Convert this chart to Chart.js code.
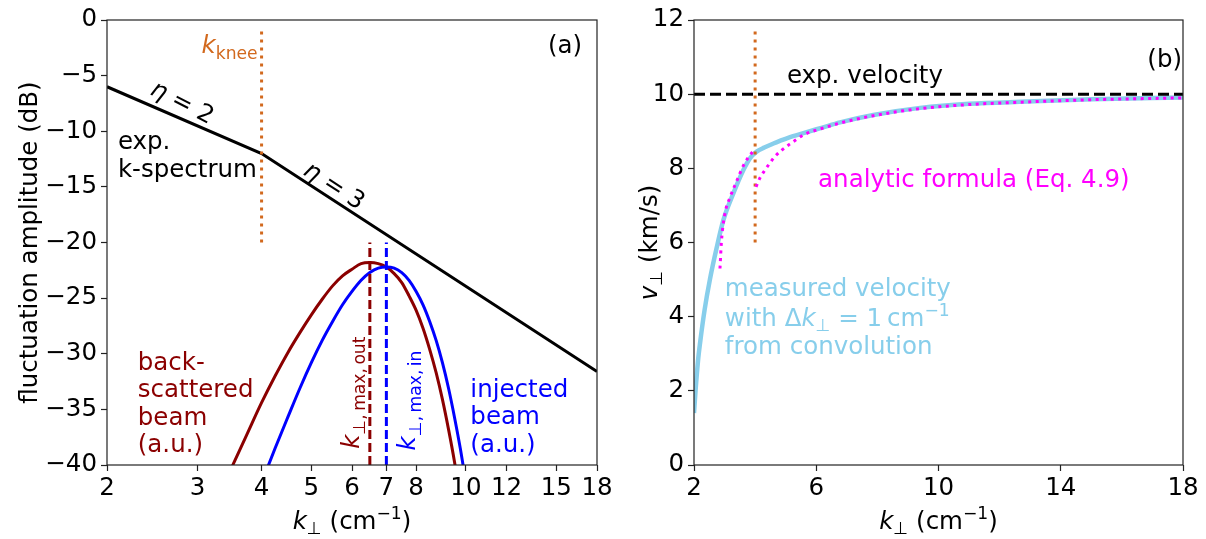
<!DOCTYPE html>
<html>
<head>
<meta charset="utf-8">
<script src="https://cdn.jsdelivr.net/npm/chart.js@4.4.1/dist/chart.umd.min.js"></script>
<style>
  html, body { margin: 0; padding: 0; background: #fff; }
  #wrap { position: relative; width: 1206px; height: 539px; overflow: hidden; }
  .panel { position: absolute; top: 0; height: 539px; }
</style>
</head>
<body>
<div id="wrap">
  <div class="panel" style="left:0;width:640px"><canvas id="chartA" width="640" height="539"></canvas></div>
  <div class="panel" style="left:603px;width:603px"><canvas id="chartB" width="603" height="539"></canvas></div>
</div>
<script>
// panel (a): experimental k-spectrum and beam profiles (k in cm^-1, amplitude in dB)
const kSpectrum = [2, 4, 18];
const ampSpectrum = [-6, -12, -31.6];

const kInjected = [4.0, 4.25, 4.5, 4.75, 5.0, 5.25, 5.5, 5.75, 6.0, 6.25, 6.5, 6.75, 7.0, 7.25, 7.5, 7.75, 8.0, 8.25, 8.5, 8.75, 9.0, 9.25, 9.5, 9.75, 10.0];
const ampInjected = [-41.6, -38.5, -35.7, -33.1, -30.8, -28.8, -27.1, -25.6, -24.4, -23.4, -22.7, -22.3, -22.2, -22.3, -22.7, -23.4, -24.4, -25.6, -27.1, -28.8, -30.8, -33.1, -35.7, -38.5, -41.6];

const kBackscat = [3.4, 3.5, 3.75, 4.0, 4.25, 4.5, 4.75, 5.0, 5.25, 5.5, 5.75, 6.0, 6.25, 6.5, 6.75, 7.0, 7.25, 7.5, 7.75, 8.0, 8.25, 8.5, 8.75, 9.0, 9.25, 9.5, 9.75];
const ampBackscat = [-41.5, -40.2, -37.2, -34.4, -32.0, -29.9, -28.1, -26.5, -25.1, -23.9, -23.0, -22.4, -21.9, -21.8, -21.9, -22.2, -22.8, -23.6, -24.8, -26.1, -27.7, -29.6, -31.7, -34.1, -36.8, -39.7, -42.9];

const kKnee = 4;
const kneeSpanA = [-20, -0.6];
const kMaxOut = 6.5;
const kMaxIn = 7.0;
const peakSpan = [-40, -20];

const xTicksA = [2, 3, 4, 5, 6, 7, 8, 10, 12, 15, 18];
const yTicksA = [0, -5, -10, -15, -20, -25, -30, -35, -40];

// panel (b): perpendicular velocity (km/s)
const kMeasured = [2.0, 2.05, 2.13, 2.2, 2.35, 2.52, 2.74, 2.96, 3.29, 3.62, 3.83, 4.05, 4.3, 4.6, 4.81, 5.1, 5.58, 6.2, 6.78, 7.87, 9.4, 11, 12.9, 15, 18];
const vMeasured = [1.4, 2.0, 2.8, 3.3, 4.2, 5.0, 5.85, 6.6, 7.33, 7.96, 8.27, 8.45, 8.56, 8.67, 8.74, 8.83, 8.95, 9.1, 9.24, 9.44, 9.63, 9.74, 9.8, 9.86, 9.91];

const kAnalyticLow = [2.85, 2.9, 3.01, 3.18, 3.4, 3.62, 3.95, 4.0];
const vAnalyticLow = [5.3, 6.05, 6.77, 7.22, 7.66, 8.08, 8.48, 8.52];
const kAnalyticHigh = [4.03, 4.15, 4.32, 4.49, 4.65, 4.87, 5.11, 5.34, 5.58, 6.2, 6.78, 7.87, 9.4, 11, 12.9, 15, 18];
const vAnalyticHigh = [7.5, 7.73, 7.95, 8.15, 8.32, 8.49, 8.64, 8.77, 8.9, 9.08, 9.22, 9.42, 9.61, 9.72, 9.79, 9.85, 9.9];

const expVelocity = 10;
const kneeSpanB = [6, 11.8];

const xTicksB = [2, 6, 10, 14, 18];
const yTicksB = [0, 2, 4, 6, 8, 10, 12];

const FONT = '"DejaVu Sans", sans-serif';
const FS = 24.5;
const ORANGE = '#D2691E';
const DARKRED = '#8B0000';
const BLUE = '#0000FF';
const SKY = '#87CEEB';
const MAGENTA = '#FF00FF';

const pts = (xs, ys) => xs.map((x, i) => ({ x, y: ys[i] }));
const fmt = v => (v < 0 ? '\u2212' + Math.abs(v) : String(v));

// draws text made of parts: [text, style] with style '', 'i', 'sub', 'sup'
function drawRich(ctx, parts, x, y, align, color, rotDeg) {
  ctx.save();
  ctx.translate(x, y);
  if (rotDeg) ctx.rotate(rotDeg * Math.PI / 180);
  ctx.fillStyle = color;
  ctx.textBaseline = 'alphabetic';
  ctx.textAlign = 'left';
  const fontOf = st => {
    const size = st === 'sub' || st === 'sup' ? FS * 0.7 : FS;
    return (st === 'i' ? 'italic ' : '') + size + 'px ' + FONT;
  };
  let total = 0;
  const widths = parts.map(([t, st]) => {
    ctx.font = fontOf(st);
    const w = ctx.measureText(t).width;
    total += w;
    return w;
  });
  let cx = align === 'left' ? 0 : align === 'right' ? -total : -total / 2;
  const base = FS * 0.36;
  parts.forEach(([t, st], i) => {
    ctx.font = fontOf(st);
    let dy = 0;
    if (st === 'sub') dy = FS * 0.22;
    if (st === 'sup') dy = -FS * 0.4;
    ctx.fillText(t, cx, base + dy);
    cx += widths[i];
  });
  ctx.restore();
}

function overlay(notes, titles) {
  return {
    id: 'overlay',
    afterDraw(chart) {
      const { ctx, chartArea: a } = chart;
      ctx.save();
      ctx.strokeStyle = '#222';
      ctx.lineWidth = 1.2;
      ctx.strokeRect(a.left, a.top, a.right - a.left, a.bottom - a.top);
      ctx.restore();
      notes.forEach(n => {
        const px = chart.scales.x.getPixelForValue(n.k);
        const py = chart.scales.y.getPixelForValue(n.v);
        drawRich(ctx, n.parts, px, py, n.align || 'left', n.color || '#000', n.rot || 0);
      });
      drawRich(ctx, titles.x, (a.left + a.right) / 2, 520, 'center', '#000', 0);
      drawRich(ctx, titles.y, titles.yPos, (a.top + a.bottom) / 2, 'center', '#000', -90);
    }
  };
}

function axis(type, min, max, ticks, size, isX) {
  return {
    type, min, max,
    grid: { display: true, drawOnChartArea: false, drawTicks: true, tickLength: 6, tickWidth: 1.2, tickColor: '#222' },
    border: { display: false },
    ticks: {
      autoSkip: false, maxRotation: 0, minRotation: 0,
      padding: isX ? 3 : 4, color: '#000',
      font: { family: FONT, size: FS },
      callback: v => fmt(v)
    },
    afterBuildTicks: s => { s.ticks = ticks.map(v => ({ value: v })); },
    afterFit: s => {
      if (isX) s.height = size; else s.width = size;
      s.paddingLeft = s.paddingRight = s.paddingTop = s.paddingBottom = 0;
    }
  };
}

function line(data, color, width, dash, extra) {
  return Object.assign({
    data, showLine: true, borderColor: color, backgroundColor: color,
    borderWidth: width, borderDash: dash || [], pointRadius: 0, pointHoverRadius: 0,
    fill: false, tension: 0, borderCapStyle: 'butt'
  }, extra || {});
}

const smooth = { cubicInterpolationMode: 'monotone' };

const baseOptions = {
  responsive: false,
  animation: false,
  events: [],
  plugins: { legend: { display: false }, tooltip: { enabled: false } }
};

const kXTitle = [['k', 'i'], ['\u22a5', 'sub'], [' (cm', ''], ['\u22121', 'sup'], [')', '']];

new Chart(document.getElementById('chartA'), {
  type: 'scatter',
  data: {
    datasets: [
      line(pts([kKnee, kKnee], kneeSpanA), ORANGE, 3, [3, 5]),
      line(pts([kMaxIn, kMaxIn], peakSpan), BLUE, 3, [9, 4]),
      line(pts([kMaxOut, kMaxOut], peakSpan), DARKRED, 3, [9, 4]),
      line(pts(kInjected, ampInjected), BLUE, 3, [], smooth),
      line(pts(kBackscat, ampBackscat), DARKRED, 3, [], smooth),
      line(pts(kSpectrum, ampSpectrum), '#000', 3)
    ]
  },
  options: Object.assign({}, baseOptions, {
    layout: { padding: { top: 20, right: 43, left: 0, bottom: 0 } },
    scales: {
      x: axis('logarithmic', 2, 18, xTicksA, 74, true),
      y: axis('linear', -40, 0, yTicksA, 107, false)
    }
  }),
  plugins: [overlay([
    { k: 3.93, v: -2.2, align: 'right', color: ORANGE, parts: [['k', 'i'], ['knee', 'sub']] },
    { k: 15.6, v: -2.2, align: 'center', parts: [['(a)', '']] },
    { k: 2.81, v: -7.3, align: 'center', rot: 27, parts: [['\u03b7', 'i'], [' = 2', '']] },
    { k: 5.56, v: -14.8, align: 'center', rot: 33, parts: [['\u03b7', 'i'], [' = 3', '']] },
    { k: 2.1, v: -10.8, parts: [['exp.', '']] },
    { k: 2.1, v: -13.3, parts: [['k-spectrum', '']] },
    { k: 2.296, v: -30.7, color: DARKRED, parts: [['back-', '']] },
    { k: 2.296, v: -33.1, color: DARKRED, parts: [['scattered', '']] },
    { k: 2.296, v: -35.6, color: DARKRED, parts: [['beam', '']] },
    { k: 2.296, v: -38.0, color: DARKRED, parts: [['(a.u.)', '']] },
    { k: 10.2, v: -33.1, color: BLUE, parts: [['injected', '']] },
    { k: 10.2, v: -35.5, color: BLUE, parts: [['beam', '']] },
    { k: 10.2, v: -38.0, color: BLUE, parts: [['(a.u.)', '']] },
    { k: 5.96, v: -33.5, align: 'center', rot: -90, color: DARKRED, parts: [['k', 'i'], ['\u22a5,\u2009max,\u2009out', 'sub']] },
    { k: 7.66, v: -34.2, align: 'center', rot: -90, color: BLUE, parts: [['k', 'i'], ['\u22a5,\u2009max,\u2009in', 'sub']] }
  ], { x: kXTitle, y: [['fluctuation amplitude (dB)', '']], yPos: 28 })]
});

new Chart(document.getElementById('chartB'), {
  type: 'scatter',
  data: {
    datasets: [
      line(pts(kAnalyticLow, vAnalyticLow), MAGENTA, 3, [3, 4.5], smooth),
      line(pts(kAnalyticHigh, vAnalyticHigh), MAGENTA, 3, [3, 4.5], smooth),
      line(pts([kKnee, kKnee], kneeSpanB), ORANGE, 3, [3, 5]),
      line(pts([2, 18], [expVelocity, expVelocity]), '#000', 3, [11, 5]),
      line(pts(kMeasured, vMeasured), SKY, 4.5, [], smooth)
    ]
  },
  options: Object.assign({}, baseOptions, {
    layout: { padding: { top: 20, right: 23, left: 0, bottom: 0 } },
    scales: {
      x: axis('linear', 2, 18, xTicksB, 74, true),
      y: axis('linear', 0, 12, yTicksB, 91, false)
    }
  }),
  plugins: [overlay([
    { k: 5.04, v: 10.54, parts: [['exp. velocity', '']] },
    { k: 17.4, v: 10.98, align: 'center', parts: [['(b)', '']] },
    { k: 6.06, v: 7.74, color: MAGENTA, parts: [['analytic formula (Eq. 4.9)', '']] },
    { k: 3.01, v: 4.80, color: SKY, parts: [['measured velocity', '']] },
    { k: 3.01, v: 3.99, color: SKY, parts: [['with \u0394', ''], ['k', 'i'], ['\u22a5', 'sub'], [' = 1\u2009cm', ''], ['\u22121', 'sup']] },
    { k: 3.01, v: 3.24, color: SKY, parts: [['from convolution', '']] }
  ], { x: kXTitle, y: [['v', 'i'], ['\u22a5', 'sub'], [' (km/s)', '']], yPos: 45 })]
});
</script>
</body>
</html>
